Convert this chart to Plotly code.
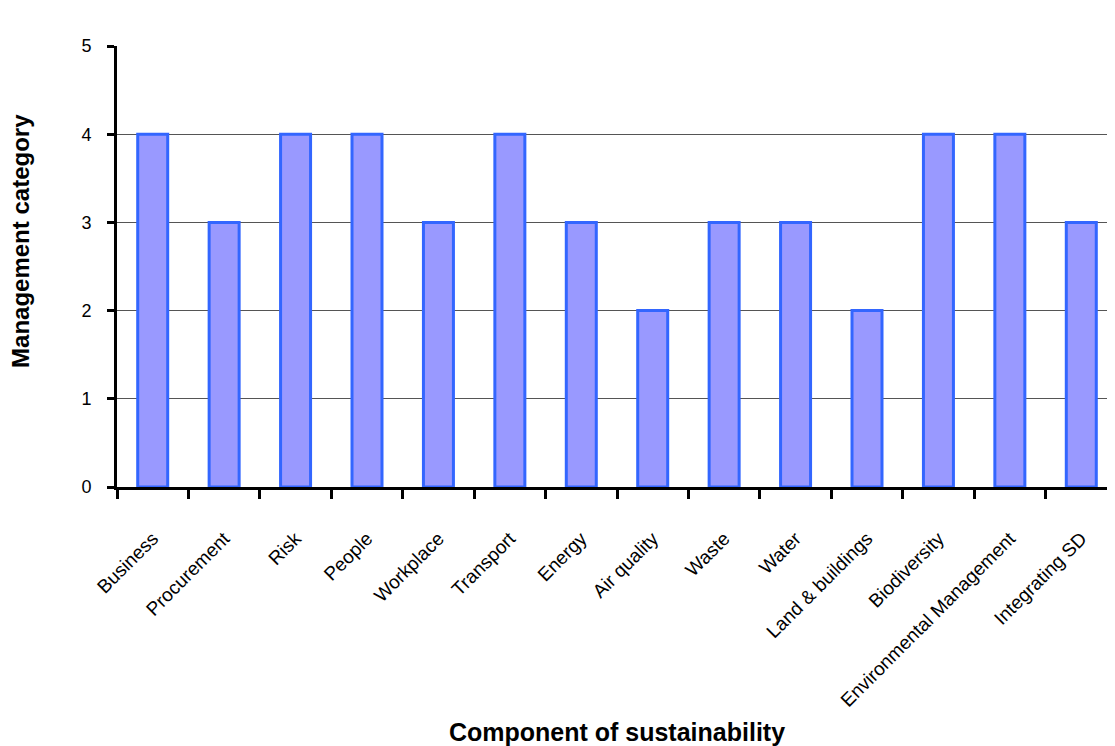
import plotly.graph_objects as go

categories = ["Business", "Procurement", "Risk", "People", "Workplace", "Transport", "Energy",
              "Air quality", "Waste", "Water", "Land & buildings", "Biodiversity",
              "Environmental Management", "Integrating SD"]
values = [4, 3, 4, 4, 3, 4, 3, 2, 3, 3, 2, 4, 4, 3]

fig = go.Figure(go.Bar(
    x=categories, y=values,
    marker=dict(color="#9999FF", line=dict(color="#3366FF", width=3)),
    width=0.42,
))

fig.update_layout(
    width=1115, height=746,
    margin=dict(l=109, r=6, t=38, b=267),
    plot_bgcolor="white", paper_bgcolor="white",
    font=dict(family="Liberation Sans, Arial", color="black"),
    showlegend=False,
    annotations=[dict(
        text="<b>Management category</b>", textangle=-90,
        xref="paper", yref="paper", x=0, y=0.558, xanchor="center", yanchor="middle",
        xshift=-96, showarrow=False, font=dict(size=24, color="black"),
    )],
)
fig.update_xaxes(
    type="category", tickson="boundaries", ticks="outside", ticklen=9, tickwidth=3,
    tickcolor="black", showline=True, linecolor="black", linewidth=3,
    tickangle=-45, tickfont=dict(size=19), showgrid=False, ticklabelstandoff=30,
    title=dict(text="<b>Component of sustainability</b>", font=dict(size=25), standoff=14),
    range=[-0.5, 13.5],
)
fig.update_yaxes(
    range=[0, 5], dtick=1, ticks="outside", ticklen=7, tickwidth=3, tickcolor="black",
    showline=True, linecolor="black", linewidth=3, showgrid=True, gridcolor="#555555",
    gridwidth=1, tickfont=dict(size=18), zeroline=False, ticklabelstandoff=12,
)

fig.write_html("out.html")
